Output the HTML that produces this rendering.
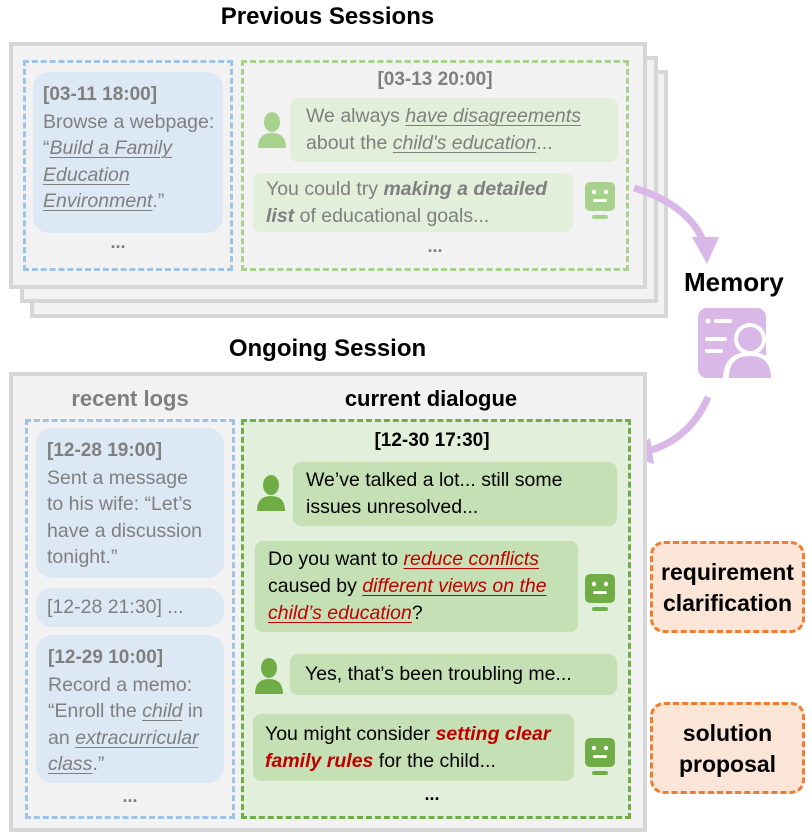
<!DOCTYPE html>
<html><head><meta charset="utf-8"><style>
*{margin:0;padding:0;box-sizing:border-box}
body{width:812px;height:836px;background:#fff;position:relative;overflow:hidden;font-family:"Liberation Sans",sans-serif;}
.a{position:absolute;white-space:nowrap}
.title{font-weight:bold;font-size:24px;color:#000;text-align:center}
.frame{border:4px solid #d6d6d6;background:#f2f2f2}
.card{border-radius:16px;background:#dde8f5;color:#7f7f7f;font-size:19.5px;line-height:26.5px;padding:9px 0 0 10px}
.card b{font-size:19px}
.bub{border-radius:8px;font-size:19.5px;line-height:27px}
u{text-decoration-thickness:1px;text-underline-offset:3px}
.red{color:#c00000}
.dots{font-weight:bold;font-size:18px;text-align:center}
.ob{border:3px dashed #ed7d31;border-radius:14px;background:#fbe5d6;font-weight:bold;font-size:23px;line-height:31px;text-align:center;color:#000}
</style></head><body>

<div class="a title" style="left:160px;top:3px;width:335px">Previous Sessions</div>
<div class="a frame" style="left:30px;top:70px;width:638px;height:248px"></div>
<div class="a frame" style="left:20px;top:56px;width:638px;height:247px"></div>
<div class="a frame" style="left:9px;top:42px;width:638px;height:247px"></div>

<div class="a" style="left:23px;top:60px;width:210px;height:211px;border:3px dashed #9dc3e6"></div>
<div class="a card" style="left:33px;top:72px;width:190px;height:161px"><b>[03-11 18:00]</b><br>Browse a webpage:<br>“<i><u>Build a Family</u></i><br><i><u>Education</u></i><br><i><u>Environment</u></i>.”</div>
<div class="a dots" style="left:23px;top:232px;width:190px;color:#7f7f7f">...</div>

<div class="a" style="left:241px;top:60px;width:388px;height:211px;border:3px dashed #a9d18e"></div>
<div class="a" style="left:241px;top:69px;width:388px;text-align:center;font-weight:bold;font-size:19px;color:#7f7f7f">[03-13 20:00]</div>
<svg class="a" style="left:257px;top:111px" width="30" height="38" viewBox="0 0 30 38"><ellipse cx="15" cy="11" rx="8" ry="10" fill="#a9d18e"/><path d="M1 37 Q1 22 15 22 Q29 22 29 37Z" fill="#a9d18e"/></svg>
<div class="a bub" style="left:290px;top:98px;width:328px;height:64px;background:#e2efda;color:#7f7f7f;padding:5px 0 0 16px">We always <i><u>have disagreements</u></i><br>about the <i><u>child's education</u></i>...</div>
<div class="a bub" style="left:253px;top:173px;width:320px;height:59px;background:#e2efda;color:#7f7f7f;padding:3px 0 0 13px">You could try <b><i>making a detailed</i></b><br><b><i>list</i></b> of educational goals...</div>
<svg class="a" style="left:584px;top:181px" width="32" height="40" viewBox="0 0 32 40"><rect x="1" y="1" width="30" height="29" rx="5" fill="#a9d18e"/><circle cx="10" cy="11" r="2.2" fill="#fff"/><circle cx="22" cy="11" r="2.2" fill="#fff"/><rect x="9" y="18" width="14" height="3" rx="1.5" fill="#fff"/><rect x="8" y="34" width="16" height="4" rx="2" fill="#a9d18e"/></svg>
<div class="a dots" style="left:241px;top:236px;width:388px;color:#7f7f7f">...</div>

<svg class="a" style="left:0;top:0" width="812" height="836">
<path d="M634 188 Q690 205 705 245" stroke="#d9b8e8" stroke-width="7" fill="none"/>
<path d="M692 237 L719 237 L707 264Z" fill="#d9b8e8"/>
<path d="M708 397 Q690 440 645 452" stroke="#d9b8e8" stroke-width="7" fill="none"/>
<path d="M650 438 L626 454 L654 464Z" fill="#d9b8e8"/>
<rect x="698" y="308" width="68" height="70" rx="9" fill="#d9b8e8"/>
<circle cx="708" cy="321" r="2.5" fill="#fff"/>
<rect x="714" y="319" width="18" height="4" rx="2" fill="#fff"/>
<rect x="705" y="337" width="22" height="4" rx="2" fill="#fff"/>
<rect x="705" y="349" width="18" height="4" rx="2" fill="#fff"/>
<circle cx="750" cy="339" r="16" fill="#fff"/>
<path d="M723 380 Q723 352 750 352 Q777 352 777 380Z" fill="#fff"/>
<circle cx="750" cy="339" r="12" fill="#d9b8e8"/>
<path d="M729 378 Q729 356 750 356 Q771 356 771 378Z" fill="#d9b8e8"/>
</svg>
<div class="a" style="left:684px;top:267px;font-weight:bold;font-size:26px;color:#000">Memory</div>

<div class="a title" style="left:160px;top:335px;width:335px">Ongoing Session</div>
<div class="a frame" style="left:9px;top:372px;width:638px;height:460px"></div>
<div class="a" style="left:25px;top:386px;width:210px;text-align:center;font-weight:bold;font-size:22px;color:#7f7f7f">recent logs</div>
<div class="a" style="left:241px;top:386px;width:380px;text-align:center;font-weight:bold;font-size:22px;color:#000">current dialogue</div>

<div class="a" style="left:25px;top:419px;width:210px;height:400px;border:3px dashed #9dc3e6"></div>
<div class="a card" style="left:36px;top:428px;width:188px;height:150px;padding-left:11px"><b>[12-28 19:00]</b><br>Sent a message<br>to his wife: “Let’s<br>have a discussion<br>tonight.”</div>
<div class="a card" style="left:36px;top:588px;width:188px;height:39px;padding:6px 0 0 11px">[12-28 21:30] ...</div>
<div class="a card" style="left:36px;top:635px;width:188px;height:148px;padding-left:12px"><b>[12-29 10:00]</b><br>Record a memo:<br>“Enroll the <i><u>child</u></i> in<br>an <i><u>extracurricular</u></i><br><i><u>class</u></i>.”</div>
<div class="a dots" style="left:25px;top:786px;width:210px;color:#7f7f7f">...</div>

<div class="a" style="left:241px;top:419px;width:390px;height:400px;border:3px dashed #70ad47;background:#e2efda"></div>
<div class="a" style="left:241px;top:430px;width:382px;text-align:center;font-weight:bold;font-size:19px;color:#000">[12-30 17:30]</div>
<svg class="a" style="left:256px;top:474px" width="30" height="38" viewBox="0 0 30 38"><ellipse cx="15" cy="11" rx="8" ry="10" fill="#70ad47"/><path d="M1 37 Q1 22 15 22 Q29 22 29 37Z" fill="#70ad47"/></svg>
<div class="a bub" style="left:293px;top:462px;width:324px;height:64px;background:#c5e0b4;color:#000;padding:5px 0 0 13px">We’ve talked a lot... still some<br>issues unresolved...</div>
<div class="a bub" style="left:255px;top:541px;width:323px;height:91px;background:#c5e0b4;color:#000;padding:5px 0 0 13px">Do you want to <i class="red"><u>reduce conflicts</u></i><br>caused by <i class="red"><u>different views on the</u></i><br><i class="red"><u>child’s education</u></i>?</div>
<svg class="a" style="left:584px;top:573px" width="32" height="40" viewBox="0 0 32 40"><rect x="1" y="1" width="30" height="29" rx="5" fill="#70ad47"/><circle cx="10" cy="11" r="2.2" fill="#fff"/><circle cx="22" cy="11" r="2.2" fill="#fff"/><rect x="9" y="18" width="14" height="3" rx="1.5" fill="#fff"/><rect x="8" y="34" width="16" height="4" rx="2" fill="#70ad47"/></svg>
<svg class="a" style="left:254px;top:657px" width="30" height="38" viewBox="0 0 30 38"><ellipse cx="15" cy="11" rx="8" ry="10" fill="#70ad47"/><path d="M1 37 Q1 22 15 22 Q29 22 29 37Z" fill="#70ad47"/></svg>
<div class="a bub" style="left:290px;top:654px;width:327px;height:41px;background:#c5e0b4;color:#000;padding:7px 0 0 15px">Yes, that’s been troubling me...</div>
<div class="a bub" style="left:253px;top:714px;width:321px;height:67px;background:#c5e0b4;color:#000;padding:7px 0 0 12px">You might consider <b><i class="red">setting clear</i></b><br><b><i class="red">family rules</i></b> for the child...</div>
<svg class="a" style="left:584px;top:737px" width="32" height="40" viewBox="0 0 32 40"><rect x="1" y="1" width="30" height="29" rx="5" fill="#70ad47"/><circle cx="10" cy="11" r="2.2" fill="#fff"/><circle cx="22" cy="11" r="2.2" fill="#fff"/><rect x="9" y="18" width="14" height="3" rx="1.5" fill="#fff"/><rect x="8" y="34" width="16" height="4" rx="2" fill="#70ad47"/></svg>
<div class="a dots" style="left:241px;top:784px;width:382px;color:#000">...</div>

<div class="a ob" style="left:650px;top:541px;width:155px;height:92px;padding-top:13px">requirement<br>clarification</div>
<div class="a ob" style="left:650px;top:702px;width:155px;height:92px;padding-top:13px">solution<br>proposal</div>
</body></html>
